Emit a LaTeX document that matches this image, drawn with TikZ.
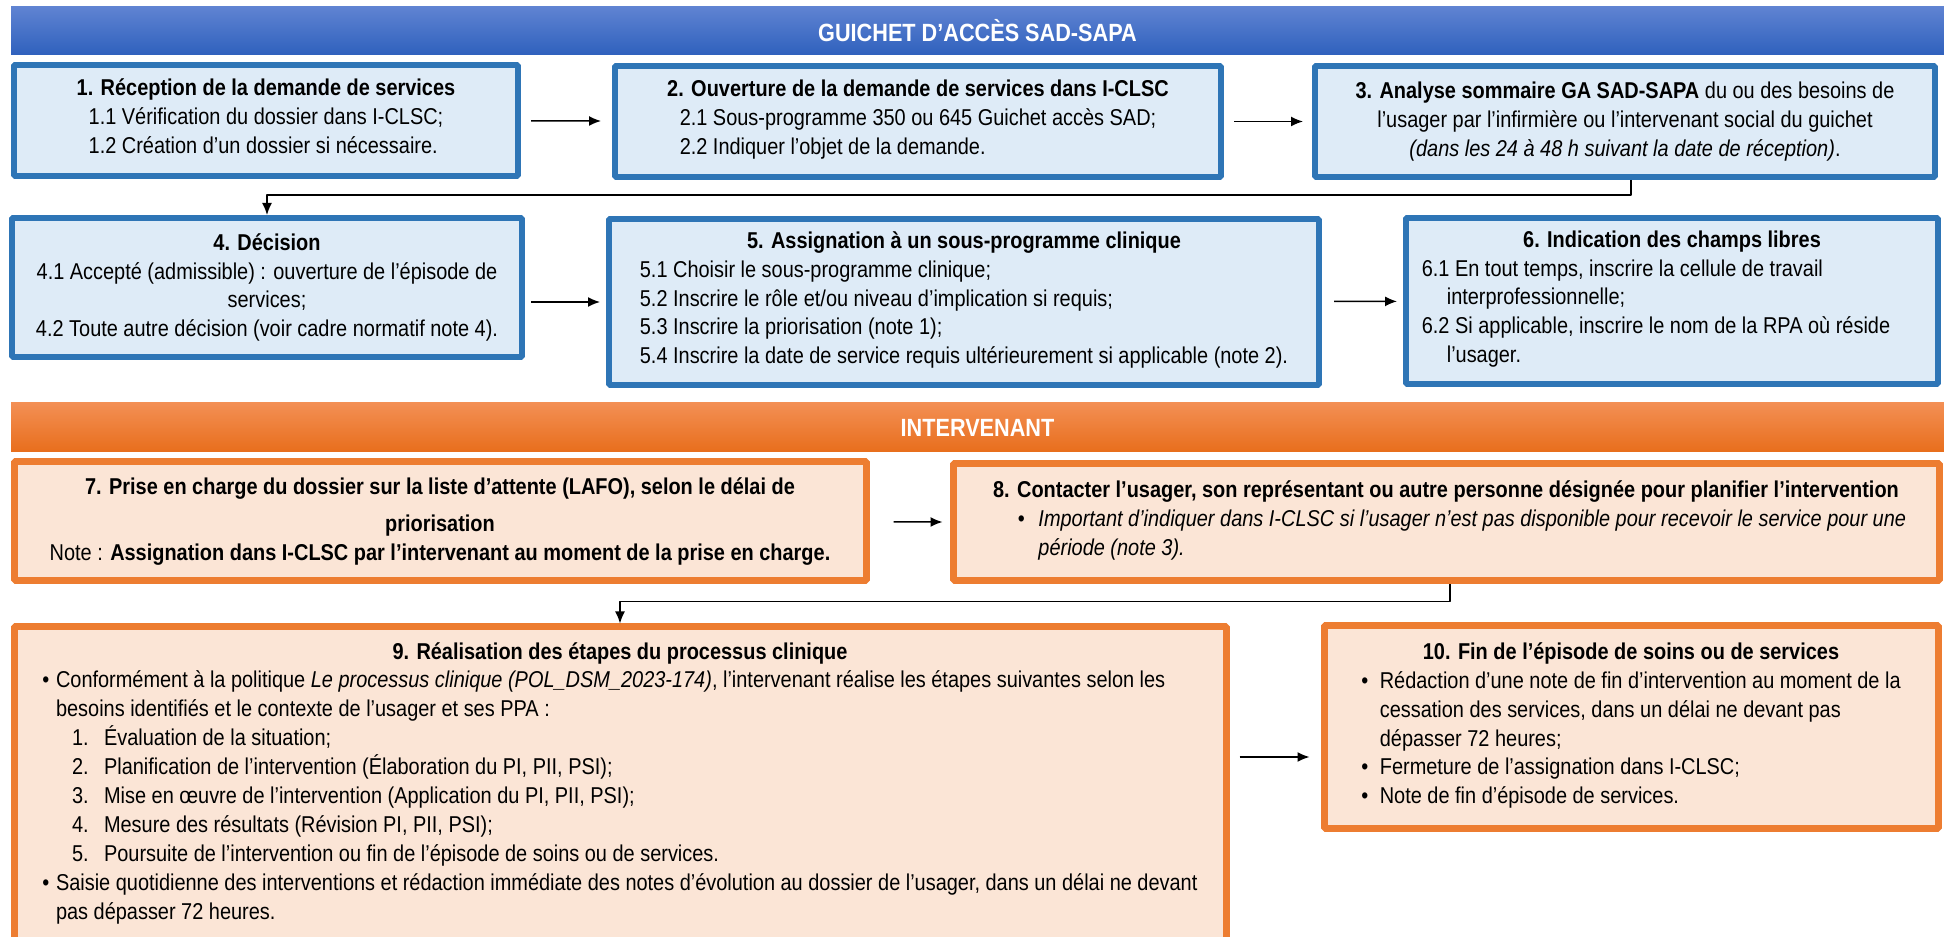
\documentclass[tikz,border=0pt]{standalone}
\usepackage{fontspec}
\setmainfont{Liberation Sans}[FakeStretch=0.87]
\usetikzlibrary{arrows.meta,calc}
\definecolor{gaborder}{RGB}{46,117,182}
\definecolor{gafill}{RGB}{222,235,247}
\definecolor{ivborder}{RGB}{237,125,49}
\definecolor{ivfill}{RGB}{251,229,214}
\definecolor{gatop}{RGB}{95,131,210}
\definecolor{gabot}{RGB}{47,97,189}
\definecolor{ivtop}{RGB}{243,143,84}
\definecolor{ivbot}{RGB}{232,110,28}
\begin{document}
\begin{tikzpicture}[>={Latex[length=6bp,width=5bp]},line join=bevel,
  gabox/.style={draw=gaborder,fill=gafill,line width=3bp,inner sep=0pt,align=center,font=\fontsize{11.5}{14.5}\selectfont},
  ivbox/.style={draw=ivborder,fill=ivfill,line width=3.5bp,inner sep=0pt,align=center,font=\fontsize{11.5}{14.5}\selectfont},
  banner/.style={minimum width=966.5bp,inner sep=0pt,text=white,font=\fontsize{12.5}{14}\selectfont\bfseries},
  link/.style={->,line width=0.75bp,black},]
%%
\useasboundingbox (0bp,0bp) rectangle (972bp,468.5bp);
\clip (0bp,0bp) rectangle (972bp,468.5bp);
%%
\node (bar_ga) at (488.75bp,453.0bp) [banner,minimum height=24bp,top color=gatop,bottom color=gabot] {GUICHET D’ACCÈS SAD-SAPA};
  \node (bar_iv) at (488.75bp,254.75bp) [banner,minimum height=24.5bp,top color=ivtop,bottom color=ivbot] {INTERVENANT};
%
\node (node_1) at (133.0bp,408.25bp) [gabox,minimum width=252bp,minimum height=55.5bp] {{\bfseries 1. Réception de la demande de services}\\
    \begin{tabular}[t]{@{}l@{}}1.1 Vérification du dossier dans I-CLSC;\\1.2 Création d’un dossier si nécessaire.\end{tabular}};
  \node (node_2) at (459.0bp,407.75bp) [gabox,minimum width=303bp,minimum height=55.5bp] {{\bfseries 2. Ouverture de la demande de services dans I-CLSC}\\
    \begin{tabular}[t]{@{}l@{}}2.1 Sous-programme 350 ou 645 Guichet accès SAD;\\2.2 Indiquer l’objet de la demande.\end{tabular}};
  \node (node_3) at (812.5bp,407.75bp) [gabox,minimum width=310bp,minimum height=55.5bp] {{\bfseries 3. Analyse sommaire GA SAD-SAPA} du ou des besoins de\\
    l’usager par l’infirmière ou l’intervenant social du guichet\\
    \textit{(dans les 24 à 48 h suivant la date de réception)}.};
  \node (node_4) at (133.5bp,324.75bp) [gabox,minimum width=255bp,minimum height=69.5bp] {{\bfseries 4. Décision}\\
    4.1 Accepté (admissible) : ouverture de l’épisode de\\services;\\
    4.2 Toute autre décision (voir cadre normatif note 4).};
  \node (node_5) at (482.0bp,317.5bp) [gabox,minimum width=355bp,minimum height=83bp] {{\bfseries 5. Assignation à un sous-programme clinique}\\
    \begin{tabular}[t]{@{}l@{}}5.1 Choisir le sous-programme clinique;\\5.2 Inscrire le rôle et/ou niveau d’implication si requis;\\
    5.3 Inscrire la priorisation (note 1);\\5.4 Inscrire la date de service requis ultérieurement si applicable (note 2).\end{tabular}};
  \node (node_6) at (836.0bp,318.0bp) [gabox,minimum width=266bp,minimum height=83bp] {{\bfseries 6. Indication des champs libres}\\
    \begin{tabular}[t]{@{}l@{\hspace{16bp}}}6.1 En tout temps, inscrire la cellule de travail\\\hspace*{12.5bp}interprofessionnelle;\\
    6.2 Si applicable, inscrire le nom de la RPA où réside\\\hspace*{12.5bp}l’usager.\end{tabular}};
%
\node (node_7) at (220.0bp,207.75bp) [ivbox,minimum width=426bp,minimum height=59.5bp] {{\bfseries 7. Prise en charge du dossier sur la liste d’attente (LAFO), selon le délai de}\\[4bp]
    {\bfseries priorisation}\\
    Note : {\bfseries Assignation dans I-CLSC par l’intervenant au moment de la prise en charge.}};
  \node (node_8) at (723.0bp,207.25bp) [ivbox,minimum width=493bp,minimum height=58.5bp] {{\bfseries 8. Contacter l’usager, son représentant ou autre personne désignée pour planifier l’intervention}\\
    \begin{tabular}[t]{@{\hspace{16bp}}l@{\hspace{6.8bp}}l@{}}\textbullet & \textit{Important d’indiquer dans I-CLSC si l’usager n’est pas disponible pour recevoir le service pour une}\\
    & \textit{période (note 3).}\end{tabular}};
  \node (node_9) at (310.0bp,76.0bp) [ivbox,minimum width=606bp,minimum height=158bp] {{\bfseries 9. Réalisation des étapes du processus clinique}\\
    \begin{tabular}[t]{@{}l@{\hspace{3.3bp}}l@{}}\textbullet & Conformément à la politique \textit{Le processus clinique (POL\_DSM\_2023-174)}, l’intervenant réalise les étapes suivantes selon les\\
    & besoins identifiés et le contexte de l’usager et ses PPA :\\
    & \hspace*{8bp}\makebox[16bp][l]{1.}Évaluation de la situation;\\
    & \hspace*{8bp}\makebox[16bp][l]{2.}Planification de l’intervention (Élaboration du PI, PII, PSI);\\
    & \hspace*{8bp}\makebox[16bp][l]{3.}Mise en œuvre de l’intervention (Application du PI, PII, PSI);\\
    & \hspace*{8bp}\makebox[16bp][l]{4.}Mesure des résultats (Révision PI, PII, PSI);\\
    & \hspace*{8bp}\makebox[16bp][l]{5.}Poursuite de l’intervention ou fin de l’épisode de soins ou de services.\\
    \textbullet & Saisie quotidienne des interventions et rédaction immédiate des notes d’évolution au dossier de l’usager, dans un délai ne devant\\
    & pas dépasser 72 heures.\end{tabular}};
  \node (node_10) at (815.5bp,104.75bp) [ivbox,minimum width=307bp,minimum height=101.5bp] {{\bfseries 10. Fin de l’épisode de soins ou de services}\\
    \begin{tabular}[t]{@{}l@{\hspace{5.8bp}}l@{}}\textbullet & Rédaction d’une note de fin d’intervention au moment de la\\
    & cessation des services, dans un délai ne devant pas\\
    & dépasser 72 heures;\\
    \textbullet & Fermeture de l’assignation dans I-CLSC;\\
    \textbullet & Note de fin d’épisode de services.\end{tabular}};
%
\draw [link,shorten <=5bp,shorten >=5.5bp] (node_1) -- (node_2);
  \draw [link,shorten <=5bp,shorten >=4.5bp] (node_2) -- (node_3);
  \draw [link] ([xshift=3bp]node_3.south) -- ++(0bp,-7.5bp) -| (node_4.north);
  \draw [link,shorten <=3bp,shorten >=3bp] (node_4.east |- node_5.west) -- (node_5.west);
  \draw [link,shorten <=6bp,shorten >=3bp] (node_5) -- (node_6);
  \draw [link,shorten <=12bp,shorten >=3.5bp] (node_7) -- (node_8);
  \draw [link] ([xshift=2bp]node_8.south) -- ++(0bp,-8.5bp) -| (node_9.north);
  \draw [link,shorten <=5bp,shorten >=5.5bp] ($(node_9.east |- node_10.west)+(0bp,-14.75bp)$) -- ($(node_10.west)+(0bp,-14.75bp)$);
%
\end{tikzpicture}
\end{document}
